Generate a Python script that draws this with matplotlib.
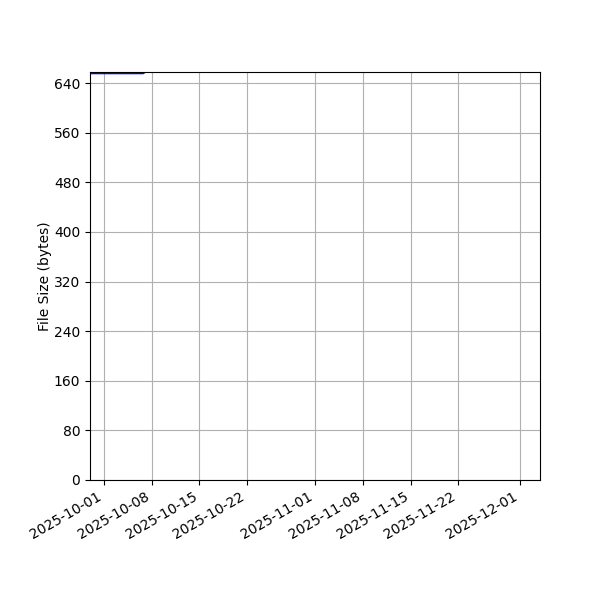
import pandas as pd
import matplotlib
matplotlib.use('Agg')
from matplotlib import pyplot as plt
from matplotlib.ticker import MultipleLocator


# file size history (bytes); only the first stretch falls inside the visible range
dates = ['2025-09-28 00:00', '2025-10-03 00:00', '2025-10-06 18:00', '2025-10-09 00:00',
		 '2025-10-20 00:00', '2025-11-05 00:00', '2025-11-20 00:00', '2025-12-01 00:00']
sizes = [656, 656, 656, 672, 720, 780, 840, 900]

x_limits = ('2025-09-28 23:00', '2025-12-04 00:00')
y_limits = (0, 658)


df = pd.DataFrame({'date': pd.to_datetime(dates), 'size': sizes})

fig, ax = plt.subplots(figsize=(6, 6), dpi=100)
ax.plot(df['date'], df['size'], color='blue', linewidth=1.5)
ax.set_xlim(pd.Timestamp(x_limits[0]), pd.Timestamp(x_limits[1]))
ax.set_ylim(*y_limits)
ax.yaxis.set_major_locator(MultipleLocator(80))
ax.set_ylabel('File Size (bytes)', labelpad=1)
ax.grid(True)
fig.autofmt_xdate()
fig.subplots_adjust(left=0.15, right=0.9, bottom=0.2, top=0.88)

fig.savefig('out.png')
